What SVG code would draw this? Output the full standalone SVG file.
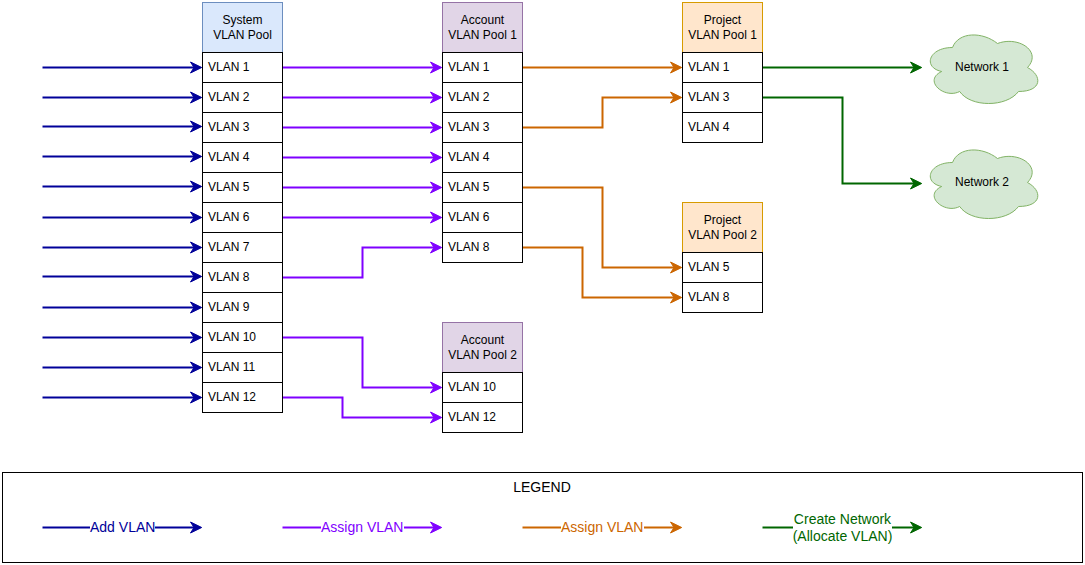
<svg xmlns="http://www.w3.org/2000/svg" width="1085" height="565" viewBox="0 0 1085 565">
<style>
text{font-family:"Liberation Sans",Arial,sans-serif;font-size:12px;fill:#000}
.c{text-anchor:middle}
.row{fill:#fff;stroke:#000;stroke-width:1}
.sys{fill:#dae8fc;stroke:#6c8ebf}
.acc{fill:#e1d5e7;stroke:#9673a6}
.prj{fill:#ffe6cc;stroke:#d79b00}
.cloud{fill:#d5e8d4;stroke:#82b366}
.ln{fill:none;stroke-width:2}
.blue{stroke:#000099}
.pur{stroke:#7f00ff}
.org{stroke:#cc6600}
.grn{stroke:#006600}
.hb{fill:#000099;stroke:#000099}
.hp{fill:#7f00ff;stroke:#7f00ff}
.ho{fill:#cc6600;stroke:#cc6600}
.hg{fill:#006600;stroke:#006600}
.lg{font-size:14px}
.wb{fill:#fff}
</style>
<defs>
<path id="hd" d="M-12 -5.500L-0.800 0L-12 5.500L-8.500 0Z"/>
<path id="cl" d="M30 20C6 20 0 40 19.200 44C0 52.800 21.600 72 37.200 64C48 80 84 80 96 64C120 64 120 48 105 40C120 24 96 8 75 16C60 4 36 4 30 20Z"/>
</defs>

<g id="connectors">
<path class="ln blue" d="M42.500 67.500H196"/><use class="hb" href="#hd" x="202.500" y="67.500"/>
<path class="ln blue" d="M42.500 97.500H196"/><use class="hb" href="#hd" x="202.500" y="97.500"/>
<path class="ln blue" d="M42.500 126.500H196"/><use class="hb" href="#hd" x="202.500" y="126.500"/>
<path class="ln blue" d="M42.500 156.500H196"/><use class="hb" href="#hd" x="202.500" y="156.500"/>
<path class="ln blue" d="M42.500 186.500H196"/><use class="hb" href="#hd" x="202.500" y="186.500"/>
<path class="ln blue" d="M42.500 217.500H196"/><use class="hb" href="#hd" x="202.500" y="217.500"/>
<path class="ln blue" d="M42.500 247.500H196"/><use class="hb" href="#hd" x="202.500" y="247.500"/>
<path class="ln blue" d="M42.500 276.500H196"/><use class="hb" href="#hd" x="202.500" y="276.500"/>
<path class="ln blue" d="M42.500 307.500H196"/><use class="hb" href="#hd" x="202.500" y="307.500"/>
<path class="ln blue" d="M42.500 337.500H196"/><use class="hb" href="#hd" x="202.500" y="337.500"/>
<path class="ln blue" d="M42.500 367.500H196"/><use class="hb" href="#hd" x="202.500" y="367.500"/>
<path class="ln blue" d="M42.500 397.500H196"/><use class="hb" href="#hd" x="202.500" y="397.500"/>
<path class="ln pur" d="M282.500 67.500H436"/><use class="hp" href="#hd" x="442.500" y="67.500"/>
<path class="ln pur" d="M282.500 97.500H436"/><use class="hp" href="#hd" x="442.500" y="97.500"/>
<path class="ln pur" d="M282.500 127.500H436"/><use class="hp" href="#hd" x="442.500" y="127.500"/>
<path class="ln pur" d="M282.500 157.500H436"/><use class="hp" href="#hd" x="442.500" y="157.500"/>
<path class="ln pur" d="M282.500 187.500H436"/><use class="hp" href="#hd" x="442.500" y="187.500"/>
<path class="ln pur" d="M282.500 217.500H436"/><use class="hp" href="#hd" x="442.500" y="217.500"/>
<path class="ln pur" d="M282.500 277.500H362.500V247.500H436"/><use class="hp" href="#hd" x="442.500" y="247.500"/>
<path class="ln pur" d="M282.500 337.500H362.500V387.500H436"/><use class="hp" href="#hd" x="442.500" y="387.500"/>
<path class="ln pur" d="M282.500 397.500H342.500V417.500H436"/><use class="hp" href="#hd" x="442.500" y="417.500"/>
<path class="ln org" d="M522.500 67.500H676"/><use class="ho" href="#hd" x="682.500" y="67.500"/>
<path class="ln org" d="M522.500 127.500H602.500V97.500H676"/><use class="ho" href="#hd" x="682.500" y="97.500"/>
<path class="ln org" d="M522.500 187.500H602.500V267.500H676"/><use class="ho" href="#hd" x="682.500" y="267.500"/>
<path class="ln org" d="M522.500 247.500H582.500V297.500H676"/><use class="ho" href="#hd" x="682.500" y="297.500"/>
<path class="ln grn" d="M762.500 67.500H916"/><use class="hg" href="#hd" x="922.500" y="67.500"/>
<path class="ln grn" d="M762.500 97.500H842.500V183.500H916"/><use class="hg" href="#hd" x="922.500" y="183.500"/>
</g>

<g id="system-pool">
<rect class="sys" x="202.500" y="2.500" width="80" height="50"/>
<text class="c" x="242.500" y="24">System</text><text class="c" x="242.500" y="39">VLAN Pool</text>
<rect class="row" x="202.500" y="52.500" width="80" height="30"/><text x="208" y="71">VLAN 1</text>
<rect class="row" x="202.500" y="82.500" width="80" height="30"/><text x="208" y="101">VLAN 2</text>
<rect class="row" x="202.500" y="112.500" width="80" height="30"/><text x="208" y="131">VLAN 3</text>
<rect class="row" x="202.500" y="142.500" width="80" height="30"/><text x="208" y="161">VLAN 4</text>
<rect class="row" x="202.500" y="172.500" width="80" height="30"/><text x="208" y="191">VLAN 5</text>
<rect class="row" x="202.500" y="202.500" width="80" height="30"/><text x="208" y="221">VLAN 6</text>
<rect class="row" x="202.500" y="232.500" width="80" height="30"/><text x="208" y="251">VLAN 7</text>
<rect class="row" x="202.500" y="262.500" width="80" height="30"/><text x="208" y="281">VLAN 8</text>
<rect class="row" x="202.500" y="292.500" width="80" height="30"/><text x="208" y="311">VLAN 9</text>
<rect class="row" x="202.500" y="322.500" width="80" height="30"/><text x="208" y="341">VLAN 10</text>
<rect class="row" x="202.500" y="352.500" width="80" height="30"/><text x="208" y="371">VLAN 11</text>
<rect class="row" x="202.500" y="382.500" width="80" height="30"/><text x="208" y="401">VLAN 12</text>
</g>

<g id="account-pool-1">
<rect class="acc" x="442.500" y="2.500" width="80" height="50"/>
<text class="c" x="482.500" y="24">Account</text><text class="c" x="482.500" y="39">VLAN Pool 1</text>
<rect class="row" x="442.500" y="52.500" width="80" height="30"/><text x="448" y="71">VLAN 1</text>
<rect class="row" x="442.500" y="82.500" width="80" height="30"/><text x="448" y="101">VLAN 2</text>
<rect class="row" x="442.500" y="112.500" width="80" height="30"/><text x="448" y="131">VLAN 3</text>
<rect class="row" x="442.500" y="142.500" width="80" height="30"/><text x="448" y="161">VLAN 4</text>
<rect class="row" x="442.500" y="172.500" width="80" height="30"/><text x="448" y="191">VLAN 5</text>
<rect class="row" x="442.500" y="202.500" width="80" height="30"/><text x="448" y="221">VLAN 6</text>
<rect class="row" x="442.500" y="232.500" width="80" height="30"/><text x="448" y="251">VLAN 8</text>
</g>

<g id="account-pool-2">
<rect class="acc" x="442.500" y="322.500" width="80" height="50"/>
<text class="c" x="482.500" y="344">Account</text><text class="c" x="482.500" y="359">VLAN Pool 2</text>
<rect class="row" x="442.500" y="372.500" width="80" height="30"/><text x="448" y="391">VLAN 10</text>
<rect class="row" x="442.500" y="402.500" width="80" height="30"/><text x="448" y="421">VLAN 12</text>
</g>

<g id="project-pool-1">
<rect class="prj" x="682.500" y="2.500" width="80" height="50"/>
<text class="c" x="722.500" y="24">Project</text><text class="c" x="722.500" y="39">VLAN Pool 1</text>
<rect class="row" x="682.500" y="52.500" width="80" height="30"/><text x="688" y="71">VLAN 1</text>
<rect class="row" x="682.500" y="82.500" width="80" height="30"/><text x="688" y="101">VLAN 3</text>
<rect class="row" x="682.500" y="112.500" width="80" height="30"/><text x="688" y="131">VLAN 4</text>
</g>

<g id="project-pool-2">
<rect class="prj" x="682.500" y="202.500" width="80" height="50"/>
<text class="c" x="722.500" y="224">Project</text><text class="c" x="722.500" y="239">VLAN Pool 2</text>
<rect class="row" x="682.500" y="252.500" width="80" height="30"/><text x="688" y="271">VLAN 5</text>
<rect class="row" x="682.500" y="282.500" width="80" height="30"/><text x="688" y="301">VLAN 8</text>
</g>

<g id="network-1">
<use class="cloud" href="#cl" x="922.500" y="27.500"/>
<text class="c" x="982" y="71">Network 1</text>
</g>
<g id="network-2">
<use class="cloud" href="#cl" x="922.500" y="142.500"/>
<text class="c" x="982" y="186">Network 2</text>
</g>

<g id="legend">
<rect x="2.500" y="472.500" width="1080" height="90" fill="#fff" stroke="#000"/>
<text class="c lg" x="542" y="492">LEGEND</text>
<path class="ln blue" d="M42.500 527.500H196"/><use class="hb" href="#hd" x="202.500" y="527.500"/>
<rect class="wb" x="90" y="518" width="65" height="18"/>
<text class="lg" x="90" y="532" style="fill:#000099">Add VLAN</text>
<path class="ln pur" d="M282.500 527.500H436"/><use class="hp" href="#hd" x="442.500" y="527.500"/>
<rect class="wb" x="321" y="518" width="83" height="18"/>
<text class="lg" x="321" y="532" style="fill:#7f00ff">Assign VLAN</text>
<path class="ln org" d="M522.500 527.500H676"/><use class="ho" href="#hd" x="682.500" y="527.500"/>
<rect class="wb" x="561" y="518" width="83" height="18"/>
<text class="lg" x="561" y="532" style="fill:#cc6600">Assign VLAN</text>
<path class="ln grn" d="M762.500 527.500H916"/><use class="hg" href="#hd" x="922.500" y="527.500"/>
<rect class="wb" x="793" y="510" width="99" height="35"/>
<text class="c lg" x="842.500" y="524" style="fill:#006600">Create Network</text>
<text class="c lg" x="842.500" y="541" style="fill:#006600">(Allocate VLAN)</text>
</g>
</svg>
